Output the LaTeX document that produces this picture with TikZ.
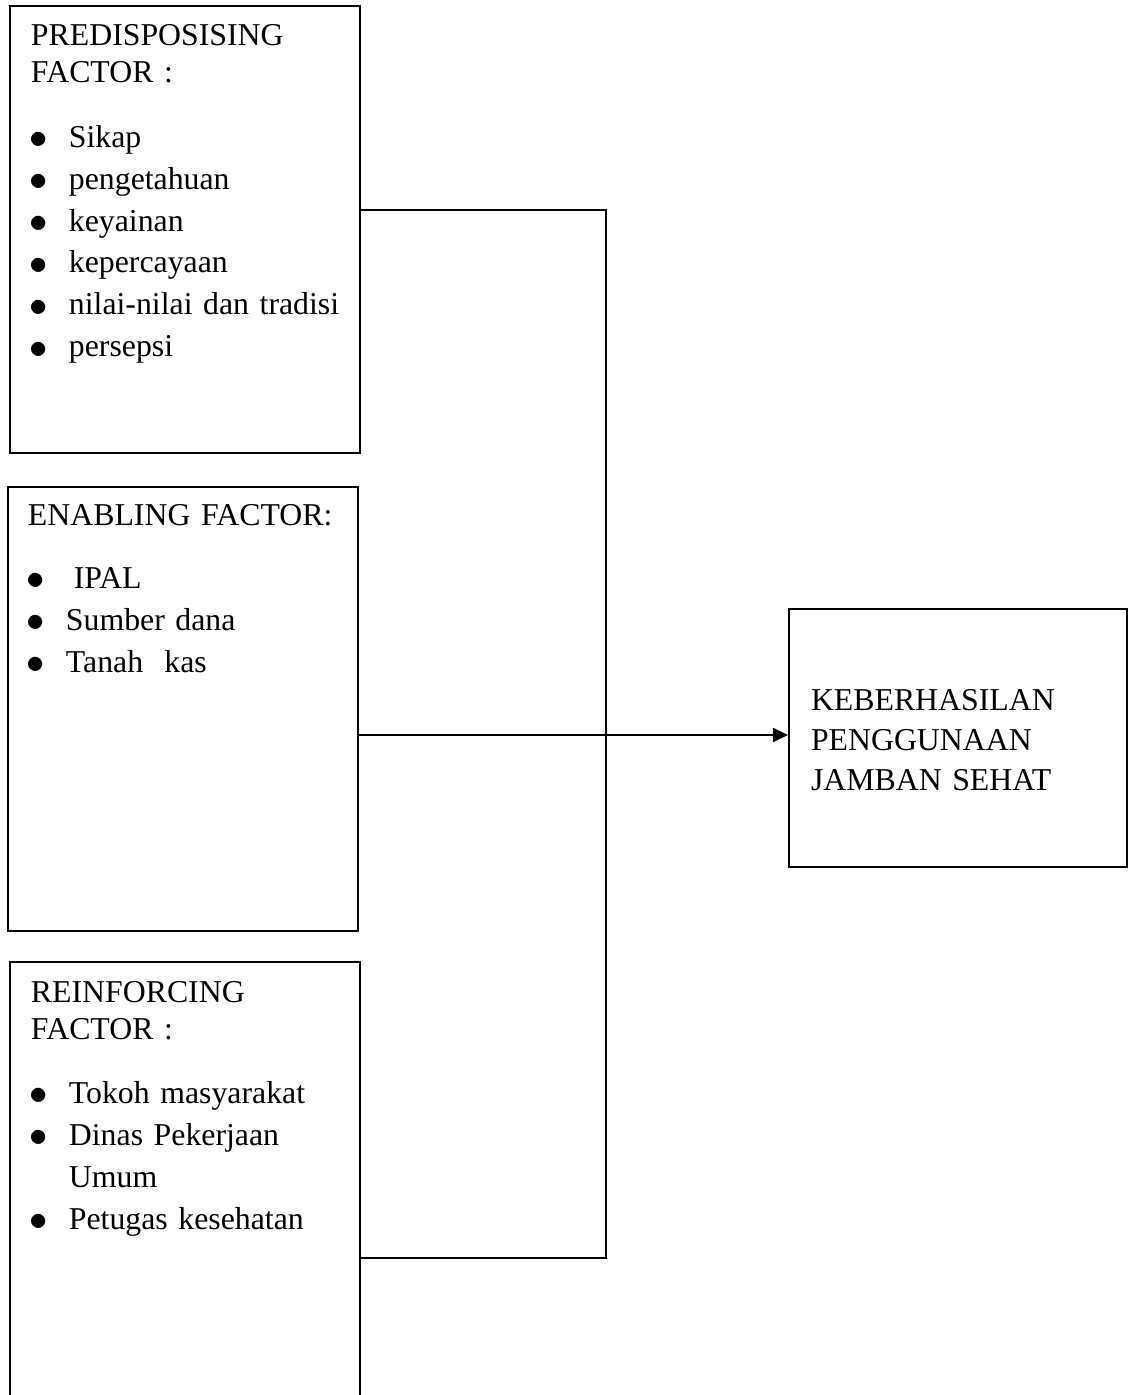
\documentclass[tikz,border=0pt]{standalone}
\usepackage{fontspec}
\setmainfont{Liberation Serif}
\usetikzlibrary{arrows.meta}

\newcommand{\itm}[1]{\makebox[14.7pt][l]{\raisebox{-0.4pt}{\scalebox{1.15}{$\bullet$}}}#1}

\begin{document}
\begin{tikzpicture}[x=0.3774pt, y=-0.3774pt, line width=0.75pt,
  factor/.style={draw, inner sep=0pt, anchor=north west},
  txt/.style={inner sep=0pt, anchor=base west, text width=125pt, align=left, font=\fontsize{12}{15.85}\selectfont},
  head/.style={txt, font=\fontsize{12}{14.3}\selectfont}]
  \useasboundingbox (0,0) rectangle (1131,1395);
  \clip (0,0) rectangle (1131,1395);
  % the three factor boxes and the outcome box
  \node (pre) [factor, minimum width=132.1pt, minimum height=168.7pt] at (9,5) {};
  \node (ena) [factor, minimum width=132.1pt, minimum height=167.6pt] at (7,486) {};
  \node (rein) [factor, minimum width=132.1pt, minimum height=173.6pt] at (9,961) {};
  \node (hasil) [factor, minimum width=127.6pt, minimum height=97.4pt] at (788,608) {};
  % texts
  \node (prehead) [head] at (30,45) {PREDISPOSISING\\FACTOR :};
  \node (prelist) [txt] at (29,147) {\itm{Sikap}\\\itm{pengetahuan}\\\itm{keyainan}\\\itm{kepercayaan}\\\itm{nilai-nilai dan tradisi}\\\itm{persepsi}};
  \node (enahead) [head] at (27,525) {ENABLING FACTOR:};
  \node (enalist) [txt] at (26,588) {\itm{\hspace*{3pt}IPAL}\\\itm{Sumber dana}\\\itm{Tanah\ \ kas}};
  \node (reinhead) [head, font=\fontsize{12}{14}\selectfont] at (30,1002) {REINFORCING\\FACTOR :};
  \node (reinlist) [txt] at (29,1103) {\itm{Tokoh masyarakat}\\\itm{Dinas Pekerjaan}\\\hspace*{14.7pt}Umum\\\itm{Petugas kesehatan}};
  \node (hasiltext) [txt, font=\fontsize{12}{15.1}\selectfont] at (810,710) {KEBERHASILAN\\PENGGUNAAN\\JAMBAN SEHAT};
  % connectors
  \coordinate (top) at (606,210);
  \coordinate (bus) at (606,735);
  \coordinate (bot) at (606,1258);
  \draw (pre.east |- top) -- (top) -- (bot) -- (rein.east |- bot);
  \draw (ena.east |- bus) -- (bus);
  \draw[-{Triangle[length=5.7pt,width=5.3pt]}] (bus) -- (hasil.west |- bus);
\end{tikzpicture}
\end{document}
